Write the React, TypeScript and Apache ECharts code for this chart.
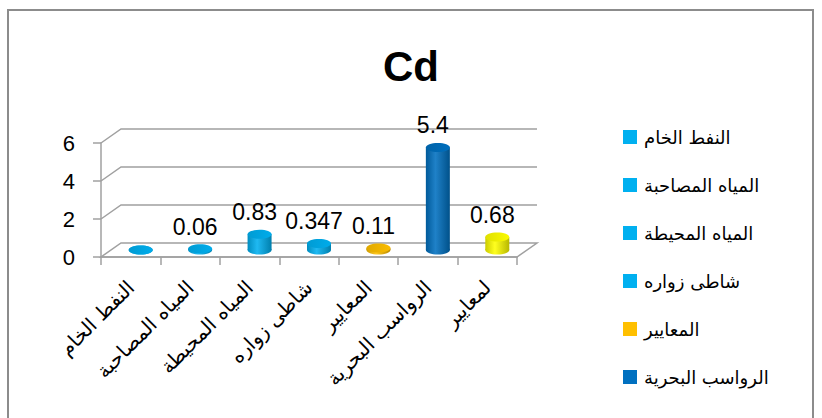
import React, { useEffect, useRef } from "react";
import * as echarts from "echarts";

// Cd concentration per sample source
const categories = [
  "النفط الخام",
  "المياه المصاحبة",
  "المياه المحيطة",
  "شاطى زواره",
  "المعايير",
  "الرواسب البحرية",
  "لمعايير",
];
const values = [0, 0.06, 0.83, 0.347, 0.11, 5.4, 0.68];
const barColors = ["#00B0F0", "#00B0F0", "#00B0F0", "#00B0F0", "#FFC000", "#0070C0", "#FFFF00"];
const legendNames = categories.slice(0, 6);
const yTicks = [0, 2, 4, 6];

const DEPTH_X = 20;
const DEPTH_Y = -14;
const FRAME_COLOR = "#A0A0A0";
const AR_FONT = "'DejaVu Sans', 'Liberation Sans', sans-serif";
const NUM_FONT = "'Liberation Sans', Arial, sans-serif";

function shade(hex: string, amt: number): string {
  const n = parseInt(hex.slice(1), 16);
  let r = (n >> 16) & 255, g = (n >> 8) & 255, b = n & 255;
  const f = (c: number) =>
    Math.round(amt >= 0 ? c + (255 - c) * amt : c * (1 + amt));
  r = f(r); g = f(g); b = f(b);
  return "#" + ((1 << 24) | (r << 16) | (g << 8) | b).toString(16).slice(1);
}

// 3D box: floor, left wall edges and back-wall gridlines
function frameItem(params: any, api: any) {
  const v = api.value(1);
  const cs = params.coordSys;
  const y = api.coord([0, v])[1];
  const left = cs.x;
  const right = cs.x + cs.width;
  const style = { stroke: FRAME_COLOR, lineWidth: 1.5, fill: "none" };
  if (v === 0) {
    return {
      type: "polygon",
      shape: {
        points: [
          [left, y],
          [right, y],
          [right + DEPTH_X, y + DEPTH_Y],
          [left + DEPTH_X, y + DEPTH_Y],
        ],
      },
      style,
    };
  }
  return {
    type: "polyline",
    shape: {
      points: [
        [left, y],
        [left + DEPTH_X, y + DEPTH_Y],
        [right + DEPTH_X, y + DEPTH_Y],
      ],
    },
    style,
  };
}

// Cylinder standing in the middle of the box depth
function cylinderItem(params: any, api: any) {
  const i = api.value(0);
  const v = api.value(1);
  const base = api.coord([i, 0]);
  const top = api.coord([i, v]);
  const cx = base[0] + DEPTH_X / 2;
  const by = base[1] + DEPTH_Y / 2;
  const ty = top[1] + DEPTH_Y / 2;
  const R = 12;
  const RY = 4.5;
  const color = barColors[i];
  const body = new echarts.graphic.LinearGradient(0, 0, 1, 0, [
    { offset: 0, color: shade(color, -0.2) },
    { offset: 0.4, color: shade(color, 0.12) },
    { offset: 1, color: shade(color, -0.28) },
  ]);
  const cap = new echarts.graphic.LinearGradient(0, 0, 1, 0, [
    { offset: 0, color: shade(color, -0.12) },
    { offset: 1, color: shade(color, -0.02) },
  ]);
  const children: any[] = [
    { type: "ellipse", shape: { cx, cy: by, rx: R, ry: RY }, style: { fill: body } },
    { type: "rect", shape: { x: cx - R, y: ty, width: 2 * R, height: by - ty }, style: { fill: body } },
    { type: "ellipse", shape: { cx, cy: ty, rx: R, ry: RY }, style: { fill: cap } },
  ];
  if (v > 0) {
    children.push({
      type: "text",
      x: cx - 5,
      y: ty - 22,
      style: {
        text: String(v),
        fill: "#000",
        fontSize: 23,
        fontFamily: NUM_FONT,
        textAlign: "center",
        textVerticalAlign: "middle",
      },
    });
  }
  return { type: "group", children };
}

export default function App() {
  const ref = useRef<HTMLDivElement>(null);

  useEffect(() => {
    if (!ref.current) return;
    const chart = echarts.init(ref.current, null, { renderer: "svg" });

    const barSeries = categories.map((name, i) => ({
      name,
      type: "custom",
      renderItem: cylinderItem,
      itemStyle: { color: barColors[i] },
      data: [[i, values[i]]],
      z: 5,
      clip: false,
    }));

    chart.setOption({
      animation: false,
      backgroundColor: "#fff",
      title: {
        text: "Cd",
        left: "center",
        top: 39,
        textStyle: {
          fontSize: 42,
          fontWeight: "bold",
          fontFamily: NUM_FONT,
          color: "#000",
          lineHeight: 44,
        },
      },
      graphic: [
        {
          type: "rect",
          shape: { x: 8, y: 10, width: 805, height: 430 },
          style: { fill: "none", stroke: "#8C8C8C", lineWidth: 2 },
          silent: true,
          z: 0,
        },
      ],
      legend: {
        orient: "vertical",
        left: 618,
        top: 121,
        itemWidth: 14,
        itemHeight: 14,
        itemGap: 26,
        icon: "rect",
        selectedMode: false,
        data: legendNames.map((name, i) => ({ name, itemStyle: { color: barColors[i] } })),
        textStyle: {
          fontSize: 18,
          lineHeight: 22,
          fontFamily: AR_FONT,
          color: "#000",
          padding: [0, 0, 0, 2],
        },
      },
      grid: { left: 101, top: 143, right: 305, bottom: 161, containLabel: false },
      xAxis: {
        type: "category",
        data: categories,
        boundaryGap: true,
        axisLine: { show: true, lineStyle: { color: FRAME_COLOR, width: 1.5 } },
        axisTick: { show: true, interval: 0, length: 8, lineStyle: { color: FRAME_COLOR, width: 1.5 } },
        axisLabel: {
          interval: 0,
          rotate: 45,
          margin: 27,
          fontSize: 20,
          fontFamily: AR_FONT,
          color: "#000",
        },
        splitLine: { show: false },
      },
      yAxis: {
        type: "value",
        min: 0,
        max: 6,
        interval: 2,
        axisLine: { show: true, lineStyle: { color: FRAME_COLOR, width: 1.5 } },
        axisTick: { show: true, length: 8, lineStyle: { color: FRAME_COLOR, width: 1.5 } },
        axisLabel: { margin: 26, fontSize: 22, fontFamily: NUM_FONT, color: "#000" },
        splitLine: { show: false },
      },
      series: [
        {
          name: "frame",
          type: "custom",
          renderItem: frameItem,
          data: yTicks.map((t) => [0, t]),
          z: 1,
          clip: false,
          silent: true,
        },
        ...barSeries,
      ],
    });

    return () => chart.dispose();
  }, []);

  return (
    <div
      ref={ref}
      style={{ position: "fixed", left: 0, top: 0, width: 822, height: 418 }}
    />
  );
}
